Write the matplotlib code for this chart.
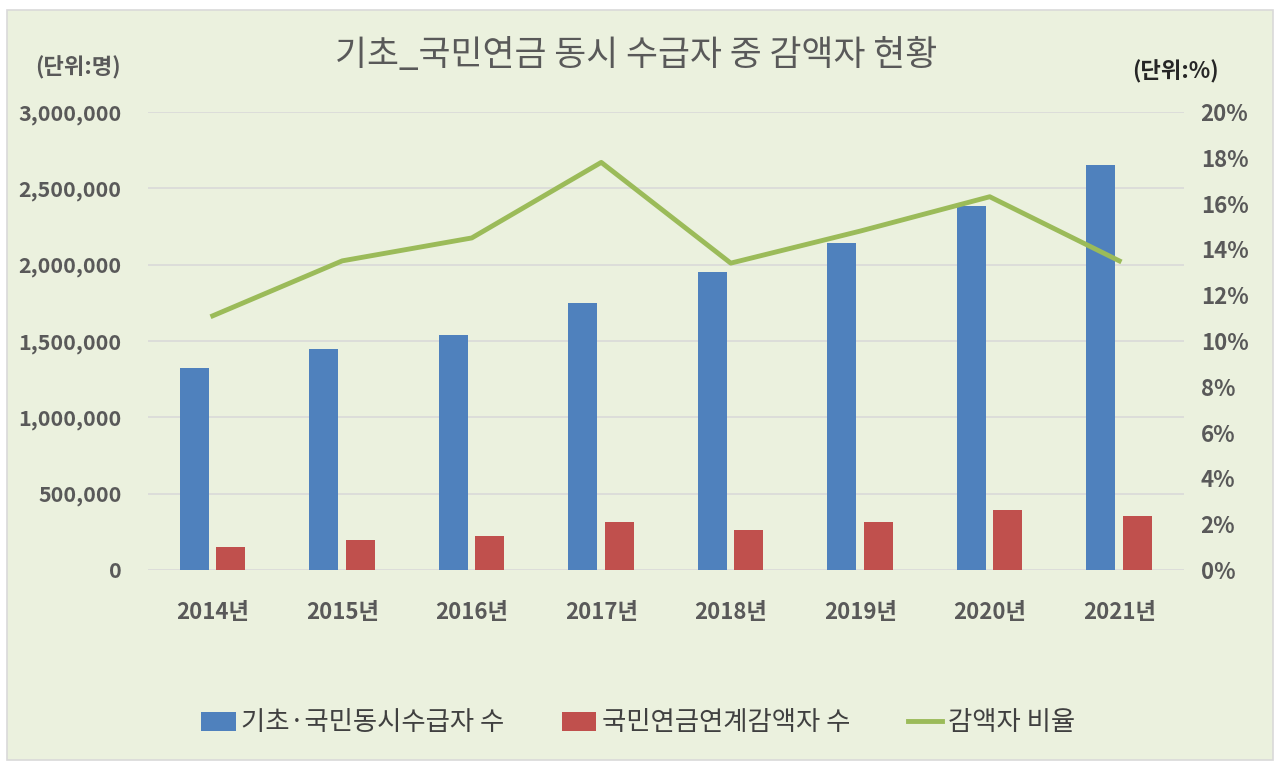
import numpy as np
import matplotlib
matplotlib.use('Agg')
import matplotlib.pyplot as plt
from matplotlib.ticker import FuncFormatter, FixedLocator
from matplotlib.patches import Rectangle

plt.rcParams['font.family'] = ['Noto Sans CJK KR', 'DejaVu Sans']

years = ['2014년', '2015년', '2016년', '2017년', '2018년', '2019년', '2020년', '2021년']
both_recipients = [1325000, 1450000, 1540000, 1750000, 1955000, 2140000, 2385000, 2650000]
reduced = [148000, 195000, 222000, 312000, 262000, 315000, 390000, 355000]
ratio = [11.1, 13.5, 14.5, 17.8, 13.4, 14.8, 16.3, 13.5]

bg = '#EBF1DE'
grey = '#595959'
blue = '#4F81BD'
red = '#C0504D'
green = '#9BBB59'

fig = plt.figure(figsize=(12.8, 7.7), dpi=100)
fig.patch.set_facecolor('white')
# chart area with thin border
fig.patches.append(Rectangle((7 / 1280, 10 / 770), 1266 / 1280, 750 / 770,
                             transform=fig.transFigure, facecolor=bg,
                             edgecolor='#D9D9D9', linewidth=1.2, zorder=-5))

ax = fig.add_axes([148 / 1280, 1 - 570 / 770, 1036 / 1280, 458 / 770])
ax.set_facecolor('none')
x = np.arange(len(years))
w = 0.225
ax.bar(x - 0.143, both_recipients, w, color=blue, label='기초·국민동시수급자 수', zorder=3)
ax.bar(x + 0.14, reduced, w, color=red, label='국민연금연계감액자 수', zorder=3)

ax.set_xlim(-0.5, len(years) - 0.5)
ax.set_ylim(0, 3000000)
ax.yaxis.set_major_locator(FixedLocator(np.arange(0, 3000001, 500000)))
ax.yaxis.set_major_formatter(FuncFormatter(lambda v, p: f'{int(v):,}'))
ax.grid(axis='y', color='#D9D9D9', linewidth=1.2, zorder=0)
ax.set_axisbelow(True)
for s in ax.spines.values():
    s.set_visible(False)
ax.set_xticks(x)
ax.set_xticklabels(years)
ax.tick_params(axis='both', length=0, labelsize=16, labelcolor=grey)
ax.tick_params(axis='x', pad=22)
ax.tick_params(axis='y', labelsize=15.5, pad=19)
for lab in ax.get_xticklabels() + ax.get_yticklabels():
    lab.set_fontweight('bold')

ax2 = ax.twinx()
ax2.plot(x, ratio, color=green, linewidth=3.5, label='감액자 비율', zorder=4)
ax2.set_ylim(0, 20)
ax2.yaxis.set_major_locator(FixedLocator(np.arange(0, 21, 2)))
ax2.yaxis.set_major_formatter(FuncFormatter(lambda v, p: f'{int(v)}%'))
ax2.tick_params(axis='y', length=0, labelsize=16, labelcolor=grey, pad=12)
for lab in ax2.get_yticklabels():
    lab.set_fontweight('bold')
for s in ax2.spines.values():
    s.set_visible(False)

fig.text(636 / 1280, 1 - 55 / 770, '기초_국민연금 동시 수급자 중 감액자 현황',
         ha='center', va='center', fontsize=25, fontweight='medium', color=grey)
fig.text(78 / 1280, 1 - 68 / 770, '(단위:명)', ha='center', va='center',
         fontsize=16, fontweight='bold', color=grey)
fig.text(1175 / 1280, 1 - 72 / 770, '(단위:%)', ha='center', va='center',
         fontsize=16, fontweight='bold', color='#262626')

h1, l1 = ax.get_legend_handles_labels()
h2, l2 = ax2.get_legend_handles_labels()
leg = fig.legend(h1 + h2, l1 + l2, loc='center', bbox_to_anchor=(638 / 1280, 1 - 723 / 770),
                 ncol=3, frameon=False, fontsize=19, handlelength=1.3, handleheight=0.7,
                 columnspacing=2.2, handletextpad=0.2)
for t in leg.get_texts():
    t.set_color('#404040')

fig.savefig('out.png', dpi=100, facecolor=fig.get_facecolor())
